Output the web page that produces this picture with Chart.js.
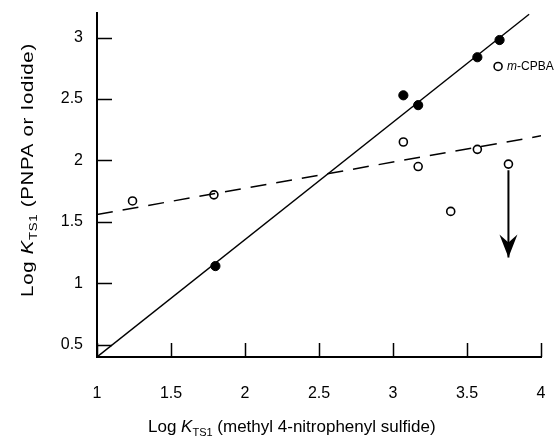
<!DOCTYPE html>
<html>
<head>
<meta charset="utf-8">
<script src="https://cdn.jsdelivr.net/npm/chart.js@4.4.1/dist/chart.umd.min.js"></script>
<style>
  html, body { margin: 0; padding: 0; background: #fff; }
  #wrap { width: 558px; height: 439px; }
</style>
</head>
<body>
<div id="wrap"><canvas id="chart"></canvas></div>
<script>
// データ
const filledX = [1.80, 3.07, 3.17, 3.57, 3.72];
const filledY = [1.14, 2.53, 2.45, 2.84, 2.98];
const openX = [1.24, 1.79, 3.07, 3.17, 3.39, 3.57, 3.71, 3.78];
const openY = [1.67, 1.72, 2.15, 1.95, 1.585, 2.09, 2.765, 1.97];

// 回帰線
const solidFitX = [1, 3.92];
const solidFitY = [0.4, 3.19];
const dashFitX = [1, 4];
const dashFitY = [1.56, 2.2];

// 上限を示す矢印
const arrowX = [3.78, 3.78];
const arrowY = [1.92, 1.21];

// ラベル付きの点
const labelText = ["m", "-CPBA"];
const labelX = 3.71;
const labelY = 2.765;

// 目盛り
const xTicks = [1, 1.5, 2, 2.5, 3, 3.5, 4];
const yTicks = [0.5, 1, 1.5, 2, 2.5, 3];
const xTickLabels = ["1", "1.5", "2", "2.5", "3", "3.5", "4"];
const yTickLabels = ["0.5", "1", "1.5", "2", "2.5", "3"];

const FONT = "'Liberation Sans', Arial, Helvetica, sans-serif";

function toPoints(xs, ys) {
  return xs.map((x, i) => ({ x: x, y: ys[i] }));
}

// 添字付きテキストの描画
function drawRich(ctx, parts, x, y, align) {
  let total = 0;
  parts.forEach((p) => {
    ctx.font = p.font;
    total += ctx.measureText(p.text).width;
  });
  let cx = align === "center" ? x - total / 2 : x;
  parts.forEach((p) => {
    ctx.font = p.font;
    ctx.fillText(p.text, cx, y + (p.dy || 0));
    cx += ctx.measureText(p.text).width;
  });
}

function titleParts(rest, size) {
  return [
    { text: "Log ", font: size + "px " + FONT },
    { text: "K", font: "italic " + size + "px " + FONT },
    { text: "TS1", font: Math.round(size * 0.62) + "px " + FONT, dy: 4 },
    { text: " " + rest, font: size + "px " + FONT },
  ];
}

// スケールの余白をなくす
function noPadding(scale) {
  scale.paddingTop = 0;
  scale.paddingBottom = 0;
  scale.paddingLeft = 0;
  scale.paddingRight = 0;
}

const decorPlugin = {
  id: "decor",
  afterDatasetsDraw(chart) {
    const ctx = chart.ctx;
    const xs = chart.scales.x;
    const ys = chart.scales.y;
    const area = chart.chartArea;

    ctx.save();
    ctx.strokeStyle = "#000";
    ctx.fillStyle = "#000";

    // 内向きの目盛り
    ctx.lineWidth = 1.5;
    ctx.beginPath();
    yTicks.forEach((v) => {
      const py = Math.round(ys.getPixelForValue(v)) + 0.5;
      ctx.moveTo(area.left, py);
      ctx.lineTo(area.left + 15, py);
    });
    xTicks.forEach((v) => {
      const px = Math.round(xs.getPixelForValue(v)) + 0.5;
      ctx.moveTo(px, area.bottom);
      ctx.lineTo(px, area.bottom - 14);
    });
    ctx.stroke();

    // 矢印の先端
    const ax = xs.getPixelForValue(arrowX[1]);
    const ay = ys.getPixelForValue(arrowY[1]);
    ctx.beginPath();
    ctx.moveTo(ax, ay);
    ctx.lineTo(ax - 9, ay - 23);
    ctx.lineTo(ax, ay - 15);
    ctx.lineTo(ax + 9, ay - 23);
    ctx.closePath();
    ctx.fill();

    // m-CPBA ラベル
    ctx.textBaseline = "middle";
    ctx.textAlign = "left";
    const lx = xs.getPixelForValue(labelX) + 9;
    const ly = ys.getPixelForValue(labelY);
    drawRich(ctx, [
      { text: labelText[0], font: "italic 12px " + FONT },
      { text: labelText[1], font: "12px " + FONT },
    ], lx, ly, "left");

    // 軸タイトル
    ctx.textBaseline = "alphabetic";
    drawRich(ctx, titleParts("(methyl 4-nitrophenyl sulfide)", 17), area.left + 51, 432, "left");

    ctx.save();
    ctx.translate(33, area.top + 157);
    ctx.rotate(-Math.PI / 2);
    ctx.scale(1.2, 1);
    ctx.letterSpacing = "0.6px";
    drawRich(ctx, titleParts("(PNPA or Iodide)", 17), 0, 0, "center");
    ctx.restore();

    ctx.restore();
  },
};

const ctx = document.getElementById("chart");

new Chart(ctx, {
  type: "scatter",
  data: {
    datasets: [
      {
        type: "line",
        data: toPoints(solidFitX, solidFitY),
        borderColor: "#000",
        borderWidth: 1.4,
        pointRadius: 0,
        fill: false,
      },
      {
        type: "line",
        data: toPoints(dashFitX, dashFitY),
        borderColor: "#000",
        borderWidth: 1.5,
        borderDash: [16, 10],
        pointRadius: 0,
        fill: false,
      },
      {
        type: "line",
        data: toPoints(arrowX, arrowY),
        borderColor: "#000",
        borderWidth: 2,
        pointRadius: 0,
        fill: false,
      },
      {
        data: toPoints(openX, openY),
        backgroundColor: "#fff",
        borderColor: "#000",
        borderWidth: 1.6,
        pointRadius: 4,
      },
      {
        data: toPoints(filledX, filledY),
        backgroundColor: "#000",
        borderColor: "#000",
        borderWidth: 1,
        pointRadius: 4.6,
      },
    ],
  },
  options: {
    responsive: true,
    maintainAspectRatio: false,
    animation: false,
    layout: {
      padding: { top: 13, right: 17, left: 0, bottom: 0 },
    },
    plugins: {
      legend: { display: false },
      tooltip: { enabled: false },
    },
    scales: {
      x: {
        type: "linear",
        min: 1,
        max: 4,
        afterFit: function (scale) {
          scale.height = 82;
          noPadding(scale);
        },
        afterBuildTicks: function (scale) {
          scale.ticks = xTicks.map((v) => ({ value: v }));
        },
        grid: { display: false, drawTicks: false },
        border: { display: true, color: "#000", width: 2 },
        ticks: {
          color: "#000",
          padding: 27,
          maxRotation: 0,
          font: { family: FONT, size: 16 },
          callback: function (value) {
            const i = xTicks.indexOf(value);
            return i >= 0 ? xTickLabels[i] : "";
          },
        },
      },
      y: {
        type: "linear",
        min: 0.4,
        max: 3.2,
        afterFit: function (scale) {
          scale.width = 97;
          noPadding(scale);
        },
        afterBuildTicks: function (scale) {
          scale.ticks = yTicks.map((v) => ({ value: v }));
        },
        grid: { display: false, drawTicks: false },
        border: { display: true, color: "#000", width: 2 },
        ticks: {
          color: "#000",
          padding: 14,
          font: { family: FONT, size: 16 },
          callback: function (value) {
            const i = yTicks.indexOf(value);
            return i >= 0 ? yTickLabels[i] : "";
          },
        },
      },
    },
  },
  plugins: [decorPlugin],
});
</script>
</body>
</html>
